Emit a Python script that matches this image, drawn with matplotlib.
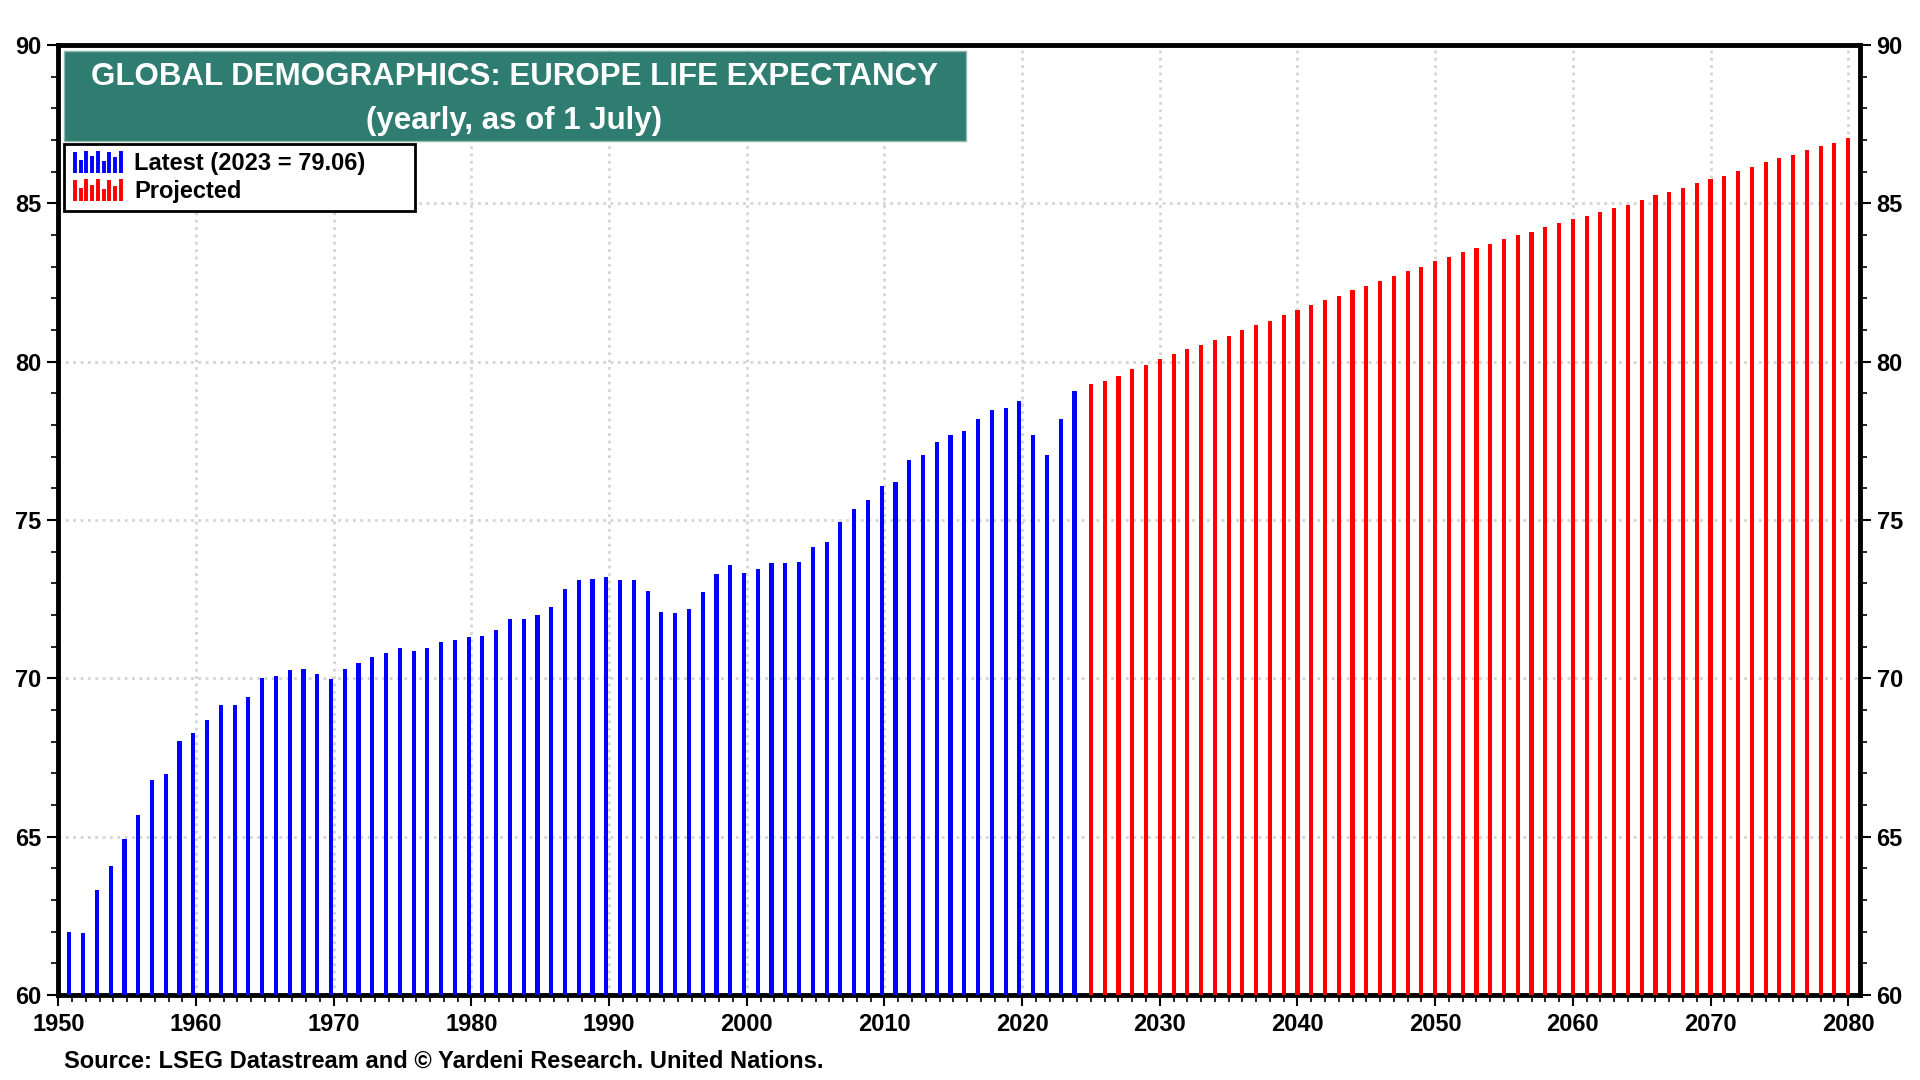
import numpy as np
import matplotlib.pyplot as plt
from matplotlib.patches import Rectangle
from matplotlib.lines import Line2D
from matplotlib.legend_handler import HandlerBase
from matplotlib.ticker import MultipleLocator

plt.rcParams['font.family'] = ['Liberation Sans', 'DejaVu Sans']
plt.rcParams['font.weight'] = 'bold'

# Europe life expectancy, history (UN)
hist_years = np.arange(1950, 2024)
hist_vals = [
    61.99, 61.95, 63.31, 64.08, 64.93, 65.67, 66.80, 66.99, 68.03, 68.27,
    68.69, 69.16, 69.16, 69.40, 70.01, 70.06, 70.26, 70.30, 70.15, 69.97,
    70.30, 70.47, 70.67, 70.81, 70.95, 70.86, 70.96, 71.15, 71.20, 71.30,
    71.34, 71.53, 71.87, 71.87, 72.00, 72.25, 72.82, 73.10, 73.14, 73.20,
    73.10, 73.10, 72.76, 72.10, 72.06, 72.19, 72.72, 73.29, 73.58, 73.33,
    73.44, 73.64, 73.64, 73.68, 74.16, 74.30, 74.93, 75.35, 75.63, 76.07,
    76.20, 76.88, 77.06, 77.45, 77.68, 77.82, 78.20, 78.48, 78.53, 78.77,
    77.68, 77.06, 78.20, 79.06,
]

# projections
proj_years = np.arange(2024, 2080)
proj_vals = [
    79.30, 79.40, 79.55, 79.77, 79.90, 80.08, 80.23, 80.39, 80.54, 80.70,
    80.81, 81.00, 81.16, 81.30, 81.47, 81.63, 81.78, 81.94, 82.09, 82.25,
    82.40, 82.56, 82.70, 82.87, 83.00, 83.18, 83.30, 83.45, 83.60, 83.72,
    83.88, 84.00, 84.10, 84.26, 84.38, 84.50, 84.60, 84.73, 84.84, 84.96,
    85.11, 85.25, 85.35, 85.48, 85.63, 85.77, 85.86, 86.01, 86.16, 86.30,
    86.44, 86.53, 86.68, 86.81, 86.92, 87.06,
]

BLUE = '#0000ff'
RED = '#ff0000'
TEAL = '#2e7d70'


class MiniBars(HandlerBase):
    # little bar-chart icon for the legend
    def __init__(self, color):
        super().__init__()
        self.color = color

    def create_artists(self, legend, orig_handle, xdescent, ydescent,
                       width, height, fontsize, trans):
        shape = [0.95, 0.6, 1.0, 0.75, 1.0, 0.55, 0.95, 0.7, 1.0]
        arts = []
        n = len(shape)
        for i, h in enumerate(shape):
            x = -xdescent + width * (i + 0.5) / n
            arts.append(Line2D([x, x], [-ydescent - 2, -ydescent - 2 + (height + 4) * h],
                               color=self.color, lw=2.8, transform=trans,
                               solid_capstyle='butt'))
        return arts


fig = plt.figure(figsize=(19.2, 10.8), dpi=100)
ax = fig.add_axes([0.0304, 0.0787, 0.9383, 0.8796])

b1 = ax.bar(hist_years + 0.8, hist_vals, width=0.3, color=BLUE, zorder=3)
b2 = ax.bar(proj_years + 1.0, proj_vals, width=0.3, color=RED, zorder=3)

ax.set_xlim(1950, 2080.85)
ax.set_ylim(60, 90)

ax.xaxis.set_major_locator(MultipleLocator(10))
ax.xaxis.set_minor_locator(MultipleLocator(1))
ax.yaxis.set_major_locator(MultipleLocator(5))
ax.yaxis.set_minor_locator(MultipleLocator(1))

ax.grid(True, which='major', color='#d4d4d4', linestyle=':', linewidth=2, zorder=0)
ax.set_axisbelow(True)

for s in ax.spines.values():
    s.set_linewidth(3.5)
    s.set_color('black')

ax.tick_params(axis='both', which='major', labelsize=17, length=8, width=1.5,
               direction='out', right=True, labelright=True, pad=4)
ax.tick_params(axis='both', which='minor', length=5, width=1.2,
               direction='out', right=True)
ax.tick_params(axis='x', which='major', pad=5)
for lab in ax.get_xticklabels() + ax.get_yticklabels():
    lab.set_fontweight('bold')

# title box
ax.add_patch(Rectangle((0.0032, 0.899), 0.5006, 0.0947, transform=ax.transAxes,
                       facecolor=TEAL, edgecolor='#8fb8b0', linewidth=1, zorder=5))
ax.text(0.253, 0.966, 'GLOBAL DEMOGRAPHICS: EUROPE LIFE EXPECTANCY',
        transform=ax.transAxes, ha='center', va='center', color='white',
        fontsize=22.5, fontweight='bold', zorder=6)
ax.text(0.253, 0.920, '(yearly, as of 1 July)', transform=ax.transAxes,
        ha='center', va='center', color='white', fontsize=22.5,
        fontweight='bold', zorder=6)

leg = ax.legend([b1, b2], ['Latest (2023 = 79.06)', 'Projected'],
                handler_map={b1: MiniBars(BLUE), b2: MiniBars(RED)},
                loc='upper left', bbox_to_anchor=(0.0032, 0.0, 0.1945, 0.8955),
                mode='expand', borderaxespad=0, fancybox=False,
                edgecolor='black', framealpha=1, handlelength=2.2,
                handletextpad=0.45, labelspacing=0.22, borderpad=0.33,
                prop={'weight': 'bold', 'size': 17})
leg.get_frame().set_linewidth(2)
leg.set_zorder(6)

fig.text(0.0333, 0.007, 'Source: LSEG Datastream and \u00a9 Yardeni Research. United Nations.',
         fontsize=17, fontweight='bold', ha='left', va='bottom')

fig.savefig('out.png', dpi=100)
